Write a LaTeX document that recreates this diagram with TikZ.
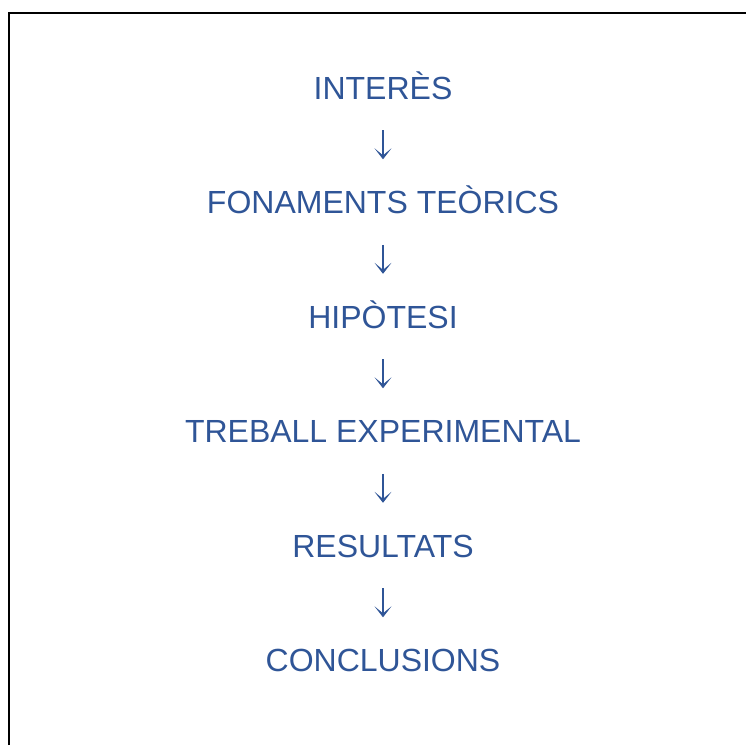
\documentclass[tikz,border=0pt]{standalone}
\usepackage{fontspec}
\setmainfont{Liberation Sans}
\usetikzlibrary{arrows.meta}
\definecolor{txtblue}{HTML}{2F5597}
\begin{document}
\begin{tikzpicture}[x=1pt,y=1pt,
  lbl/.style={inner sep=0pt, anchor=base, text=txtblue, font=\fontsize{32}{38}\selectfont},
  conn/.style={draw=txtblue, line width=1.3pt, -{Stealth[length=11pt,width=17pt,inset=7pt,fill=txtblue]}}]
\useasboundingbox (0,0) rectangle (746,-745);
\draw[line width=2.6pt] (9,-745) coordinate (bl) -- (9,-13) coordinate (tl) -- (746,-13) coordinate (tr);
\node[lbl] (n1) at (383,-99.3) {INTERÈS};
\node[lbl] (n2) at (383,-213.8) {FONAMENTS TEÒRICS};
\node[lbl] (n3) at (383,-328.3) {HIPÒTESI};
\node[lbl] (n4) at (383,-442.8) {TREBALL EXPERIMENTAL};
\node[lbl] (n5) at (383,-557.3) {RESULTATS};
\node[lbl] (n6) at (383,-671.8) {CONCLUSIONS};
\foreach \a/\b in {n1/n2,n2/n3,n3/n4,n4/n5,n5/n6}
  \draw[conn] ([yshift=-31pt]\a.base) -- ([yshift=-60pt]\a.base);
\end{tikzpicture}
\end{document}
